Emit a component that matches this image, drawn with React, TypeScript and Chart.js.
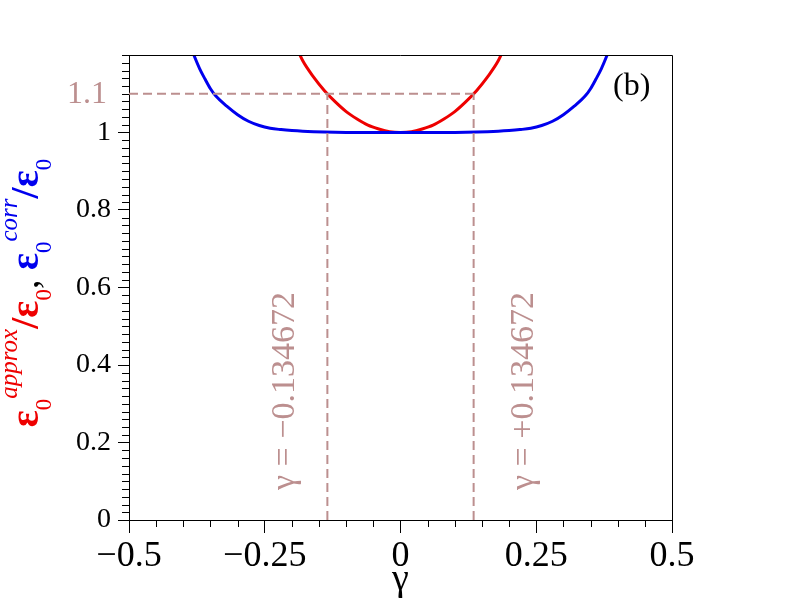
import { useEffect, useRef } from 'react'
import { Chart, registerables } from 'chart.js'

Chart.register(...registerables)

// eps0^approx / eps0 (red)
const approxGamma = [-0.19, -0.18, -0.16, -0.14, -0.12, -0.1, -0.08, -0.06, -0.04, -0.02, 0, 0.02, 0.04, 0.06, 0.08, 0.1, 0.12, 0.14, 0.16, 0.18, 0.19]
const approxRatio = [1.215, 1.185, 1.143, 1.108, 1.079, 1.054, 1.035, 1.019, 1.009, 1.002, 1.0, 1.002, 1.009, 1.019, 1.035, 1.054, 1.079, 1.108, 1.143, 1.185, 1.215]

// eps0^corr / eps0 (blue)
const corrGamma = [-0.39, -0.38, -0.37, -0.36, -0.35, -0.34, -0.32, -0.3, -0.28, -0.26, -0.24, -0.22, -0.2, -0.18, -0.16, -0.14, -0.12, -0.1, -0.05, 0, 0.05, 0.1, 0.12, 0.14, 0.16, 0.18, 0.2, 0.22, 0.24, 0.26, 0.28, 0.3, 0.32, 0.34, 0.35, 0.36, 0.37, 0.38, 0.39]
const corrRatio = [1.235, 1.198, 1.165, 1.138, 1.113, 1.094, 1.068, 1.046, 1.029, 1.018, 1.011, 1.0075, 1.005, 1.0032, 1.002, 1.0012, 1.0006, 1.0003, 1.0, 1.0, 1.0, 1.0003, 1.0006, 1.0012, 1.002, 1.0032, 1.005, 1.0075, 1.011, 1.018, 1.029, 1.046, 1.068, 1.094, 1.113, 1.138, 1.165, 1.198, 1.235]

const crossGamma = [-0.134672, 0.134672]
const crossLevel = 1.1
const crossLabels = ['γ = −0.134672', 'γ = +0.134672']

const xTicks = [-0.5, -0.25, 0, 0.25, 0.5]
const yTicks = [0, 0.2, 0.4, 0.6, 0.8, 1]
const xMinorStep = 0.05
const yMinorStep = 0.02

const SERIF = '"Liberation Serif", "DejaVu Serif", serif'
const RED = '#ee0000'
const BLUE = '#0000ee'
const ROSY = 'rgb(188,143,143)'

const fmt = (v: number) => (v < 0 ? '−' + String(-v) : String(v))

type Run = { text: string; font: string; color: string; dy: number }

const titleRuns: Run[] = [
  { text: 'ε', font: `bold 40px ${SERIF}`, color: RED, dy: 0 },
  { text: '0', font: `23px ${SERIF}`, color: RED, dy: 13 },
  { text: 'approx', font: `italic 25px ${SERIF}`, color: RED, dy: -21 },
  { text: '/ε', font: `bold 40px ${SERIF}`, color: RED, dy: 0 },
  { text: '0', font: `23px ${SERIF}`, color: RED, dy: 13 },
  { text: ', ', font: `38px ${SERIF}`, color: '#000', dy: 0 },
  { text: 'ε', font: `bold 40px ${SERIF}`, color: BLUE, dy: 0 },
  { text: '0', font: `23px ${SERIF}`, color: BLUE, dy: 13 },
  { text: 'corr', font: `italic 25px ${SERIF}`, color: BLUE, dy: -21 },
  { text: '/ε', font: `bold 40px ${SERIF}`, color: BLUE, dy: 0 },
  { text: '0', font: `23px ${SERIF}`, color: BLUE, dy: 13 },
]

const decorPlugin = {
  id: 'decor',
  afterDraw(chart: any) {
    const { ctx, chartArea: a, scales } = chart
    const xs = scales.x
    const ys = scales.y
    ctx.save()

    // frame top / right
    ctx.strokeStyle = '#000'
    ctx.lineWidth = 1
    ctx.beginPath()
    ctx.moveTo(a.left, a.top + 0.5)
    ctx.lineTo(a.right + 0.5, a.top + 0.5)
    ctx.lineTo(a.right + 0.5, a.bottom)
    ctx.stroke()

    // minor ticks
    ctx.beginPath()
    const nx = Math.round((xs.max - xs.min) / xMinorStep)
    for (let i = 0; i <= nx; i++) {
      const v = xs.min + i * xMinorStep
      if (xTicks.some((t) => Math.abs(t - v) < 1e-9)) continue
      const px = Math.round(xs.getPixelForValue(v)) + 0.5
      ctx.moveTo(px, a.bottom)
      ctx.lineTo(px, a.bottom + 7)
    }
    const ny = Math.round((ys.max - ys.min) / yMinorStep)
    for (let i = 0; i <= ny; i++) {
      const v = ys.min + i * yMinorStep
      if (yTicks.some((t) => Math.abs(t - v) < 1e-9)) continue
      const py = Math.round(ys.getPixelForValue(v)) + 0.5
      ctx.moveTo(a.left, py)
      ctx.lineTo(a.left - 7, py)
    }
    ctx.stroke()

    // 1.1 label
    ctx.fillStyle = ROSY
    ctx.font = `32px ${SERIF}`
    ctx.textAlign = 'right'
    ctx.textBaseline = 'middle'
    ctx.fillText(String(crossLevel), a.left - 22, ys.getPixelForValue(crossLevel) + 1)

    // vertical labels beside the dashed lines
    ctx.font = `34px ${SERIF}`
    ctx.textAlign = 'center'
    ctx.textBaseline = 'alphabetic'
    crossLabels.forEach((lab, i) => {
      const px = xs.getPixelForValue(crossGamma[i])
      ctx.save()
      ctx.translate(i === 0 ? px - 33 : px + 59, 391)
      ctx.rotate(-Math.PI / 2)
      ctx.fillText(lab, 0, 0)
      ctx.restore()
    })

    // (b)
    ctx.fillStyle = '#000'
    ctx.font = `32px ${SERIF}`
    ctx.textAlign = 'left'
    ctx.fillText('(b)', 613, 95)

    // x title
    ctx.font = `38px ${SERIF}`
    ctx.textAlign = 'center'
    ctx.fillText('γ', (a.left + a.right) / 2, 590)

    // y title, rotated, mixed colours
    ctx.textAlign = 'left'
    let total = 0
    titleRuns.forEach((r) => {
      ctx.font = r.font
      total += ctx.measureText(r.text).width
    })
    ctx.save()
    ctx.translate(38, 293)
    ctx.rotate(-Math.PI / 2)
    let x = -total / 2
    titleRuns.forEach((r) => {
      ctx.font = r.font
      ctx.fillStyle = r.color
      ctx.fillText(r.text, x, r.dy)
      x += ctx.measureText(r.text).width
    })
    ctx.restore()

    ctx.restore()
  },
}

export default function App() {
  const canvasRef = useRef<HTMLCanvasElement>(null)
  const chartRef = useRef<Chart | null>(null)

  useEffect(() => {
    if (!canvasRef.current) return
    if (chartRef.current) chartRef.current.destroy()

    const dashed = {
      borderColor: ROSY,
      borderWidth: 2,
      borderDash: [9, 5],
      pointRadius: 0,
      fill: false,
      tension: 0,
    }

    chartRef.current = new Chart(canvasRef.current, {
      type: 'line',
      data: {
        datasets: [
          {
            ...dashed,
            data: [
              { x: xTicks[0], y: crossLevel },
              { x: crossGamma[1], y: crossLevel },
            ],
          },
          ...crossGamma.map((g) => ({
            ...dashed,
            data: [
              { x: g, y: yTicks[0] },
              { x: g, y: crossLevel },
            ],
          })),
          {
            data: corrGamma.map((g, i) => ({ x: g, y: corrRatio[i] })),
            borderColor: BLUE,
            borderWidth: 3,
            pointRadius: 0,
            cubicInterpolationMode: 'monotone',
            clip: 0,
          },
          {
            data: approxGamma.map((g, i) => ({ x: g, y: approxRatio[i] })),
            borderColor: RED,
            borderWidth: 3,
            pointRadius: 0,
            cubicInterpolationMode: 'monotone',
            clip: 0,
          },
        ] as any,
      },
      options: {
        animation: false,
        responsive: false,
        devicePixelRatio: 1,
        layout: { padding: { top: 55, right: 120, left: 0, bottom: 0 } },
        plugins: { legend: { display: false }, tooltip: { enabled: false } },
        scales: {
          x: {
            type: 'linear',
            min: -0.5,
            max: 0.5,
            afterBuildTicks: (s: any) => {
              s.ticks = xTicks.map((v) => ({ value: v }))
            },
            afterFit: (s: any) => {
              s.height = 92
            },
            border: { display: true, color: '#000', width: 1 },
            grid: { drawOnChartArea: false, drawTicks: true, tickLength: 13, tickColor: '#000', tickWidth: 1 },
            ticks: {
              color: '#000',
              font: { family: SERIF, size: 36 },
              padding: 2,
              maxRotation: 0,
              callback: (v: any) => fmt(Number(v)),
            },
          },
          y: {
            type: 'linear',
            min: 0,
            max: 1.2,
            afterBuildTicks: (s: any) => {
              s.ticks = yTicks.map((v) => ({ value: v }))
            },
            afterFit: (s: any) => {
              s.width = 129
            },
            border: { display: true, color: '#000', width: 1 },
            grid: { drawOnChartArea: false, drawTicks: true, tickLength: 11, tickColor: '#000', tickWidth: 1 },
            ticks: {
              color: '#000',
              font: { family: SERIF, size: 28 },
              padding: 7,
              callback: (v: any) => fmt(Number(v)),
            },
          },
        },
      },
      plugins: [decorPlugin],
    })

    return () => {
      if (chartRef.current) {
        chartRef.current.destroy()
        chartRef.current = null
      }
    }
  }, [])

  return (
    <div style={{ position: 'absolute', left: 0, top: 0, width: 792, height: 612, background: '#fff' }}>
      <canvas ref={canvasRef} width={792} height={612} />
    </div>
  )
}
